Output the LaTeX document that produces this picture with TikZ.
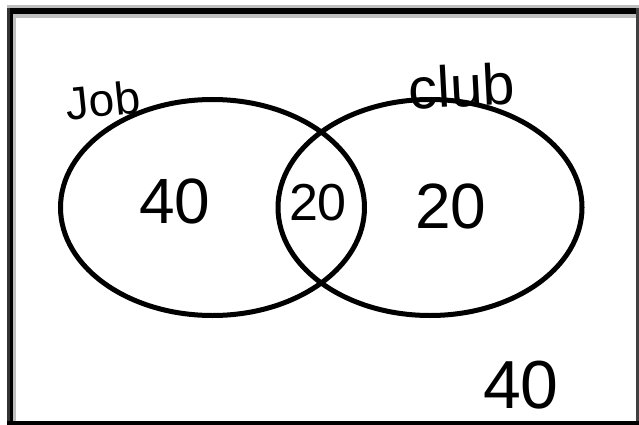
\documentclass[tikz,border=0pt]{standalone}
\usepackage{fontspec}
\setmainfont{Liberation Sans}
\usetikzlibrary{shapes.geometric}
\tikzset{
  setring/.style={draw=black, line width=5pt, ellipse, inner sep=0pt,
    minimum width=304pt, minimum height=216pt},
  hand/.style={inner sep=0pt, text=black},
}
\begin{document}
\begin{tikzpicture}[x=1pt,y=-1pt]
\useasboundingbox (0,0) rectangle (639,425);
\fill[white] (0,0) rectangle (639,425);
% frame
\fill[black!25] (7,5) rectangle (639,18);
\fill[black!25] (7,5) rectangle (16,425);
\fill[black] (7,8) rectangle (639,14);
\fill[black!80] (7,8) rectangle (10,425);
\fill[black] (10,8) rectangle (13,425);
\fill[black!75] (636,8) rectangle (639,421);
\fill[black] (7,421) rectangle (639,425);
% sets
\node[setring] (job) at (212.5,207.5) {};
\node[setring] (club) at (430,207.5) {};
% labels
\node[hand, font=\fontsize{46}{46}\selectfont, rotate=6] (joblabel) at (103,100) {Job};
\node[hand, font=\fontsize{58}{58}\selectfont, rotate=3] (clublabel) at (462,86) {club};
\node[hand, font=\fontsize{64}{64}\selectfont] (onlyjob) at (175,201) {40};
\node[hand, font=\fontsize{52}{52}\selectfont] (both) at (318,203) {20};
\node[hand, font=\fontsize{64}{64}\selectfont] (onlyclub) at (451,206) {20};
\node[hand, font=\fontsize{68}{68}\selectfont] (neither) at (521,385) {40};
\end{tikzpicture}
\end{document}
